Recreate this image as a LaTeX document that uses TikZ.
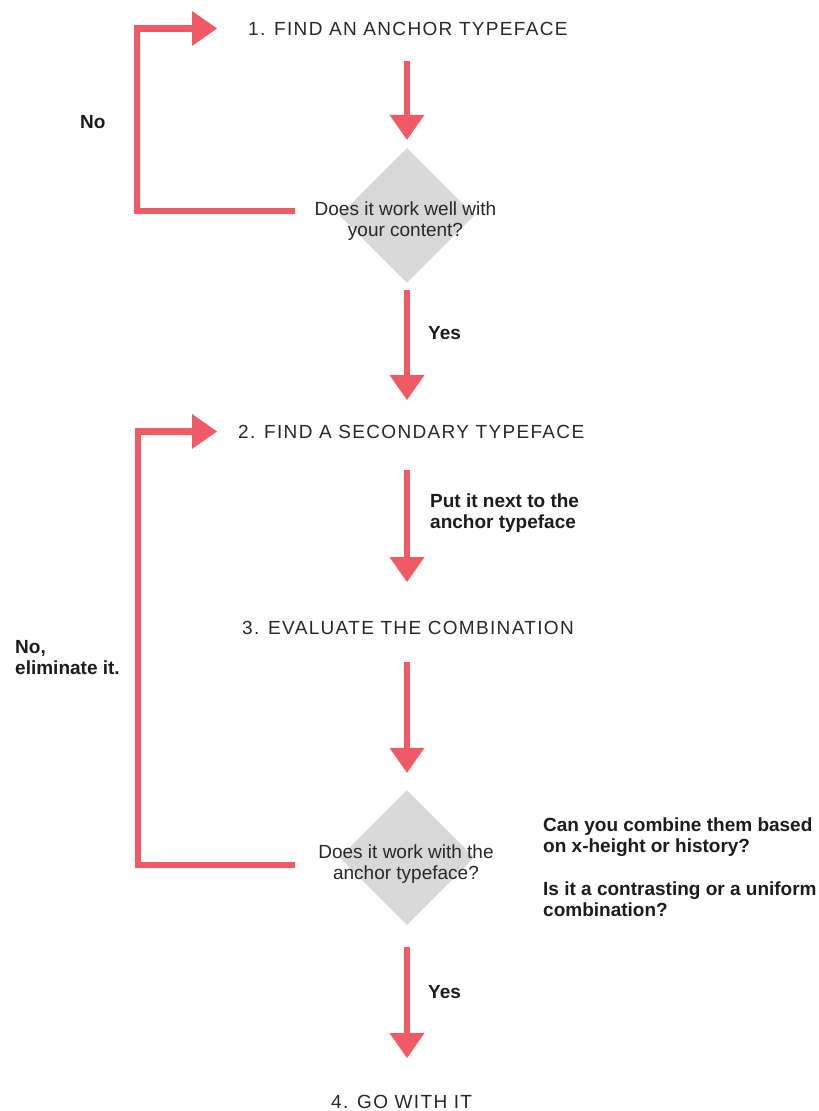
\documentclass[tikz,border=0pt]{standalone}
\usepackage{fontspec}
\setmainfont{Liberation Sans}
\newfontfamily\titlefont[LetterSpace=7]{Liberation Sans}
\usetikzlibrary{arrows.meta,shapes.geometric}
\definecolor{cred}{RGB}{240,90,100}
\definecolor{cgray}{RGB}{216,216,216}
\definecolor{ctitle}{RGB}{40,40,40}
\definecolor{clabel}{RGB}{28,28,28}
\tikzset{
  arr/.style={draw=cred, line width=6.5pt, line join=miter,
    -{Triangle[width=35pt,length=25pt,line width=0pt]}},
  ttl/.style={anchor=base west, inner sep=0pt, text=ctitle,
    font=\titlefont\fontsize{19}{20}\selectfont},
  dia/.style={diamond, aspect=1, fill=cgray, inner sep=0pt,
    minimum width=135pt, minimum height=135pt},
  qtext/.style={anchor=base, inner sep=0pt, align=center, text=ctitle,
    font=\fontsize{19}{20.5}\selectfont},
  lbl/.style={anchor=base west, inner sep=0pt, align=left, text=clabel,
    font=\bfseries\fontsize{19}{20.5}\selectfont},
}
\begin{document}
\begin{tikzpicture}[x=1pt,y=-1pt]
\useasboundingbox[fill=white] (0,0) rectangle (819,1111);

% titles
\node[ttl] (t1) at (248,35) {1. FIND AN ANCHOR TYPEFACE};
\node[ttl] (t2) at (238,438) {2. FIND A SECONDARY TYPEFACE};
\node[ttl] (t3) at (242,634) {3. EVALUATE THE COMBINATION};
\node[ttl] (t4) at (331,1108) {4. GO WITH IT};

% decisions
\node[dia] (d1) at (407,215.5) {};
\node[qtext] (q1) at (405.5,236) {Does it work well with\\your content?};
\node[dia] (d2) at (407,857.5) {};
\node[qtext] (q2) at (406,879) {Does it work with the\\anchor typeface?};

% labels
\node[lbl] (no1) at (80,128) {No};
\node[lbl] (yes1) at (428,339) {Yes};
\node[lbl] (put) at (430,528) {Put it next to the\\anchor typeface};
\node[lbl] (no2) at (15,674) {No,\\eliminate it.};
\node[lbl] (c1) at (543,852) {Can you combine them based\\on x-height or history?};
\node[lbl] (c2) at (543,916) {Is it a contrasting or a uniform\\combination?};
\node[lbl] (yes2) at (428,998) {Yes};

% vertical connectors
\draw[arr, shorten <=26pt, shorten >=8pt] (t1.base -| d1) -- (d1.north);
\draw[arr, shorten <=7pt, shorten >=38pt] (d1.south) -- (t2.base -| d1);
\draw[arr, shorten <=32pt, shorten >=52pt] (t2.base -| d1) -- (t3.base -| d1);
\draw[arr, shorten <=28pt, shorten >=17pt] (t3.base -| d1) -- (d2.north);
\draw[arr, shorten <=22pt, shorten >=50pt] (d2.south) -- (t4.base -| d2);

% loops back
\draw[arr] ([shift={(-44.5,-4.5)}]d1.west) -- ++(-158,0) |- ([xshift=-31pt]t1.west);
\draw[arr] ([shift={(-44.5,7.5)}]d2.west) -- ++(-157,0) |- ([xshift=-21pt]t2.west);
\end{tikzpicture}
\end{document}
